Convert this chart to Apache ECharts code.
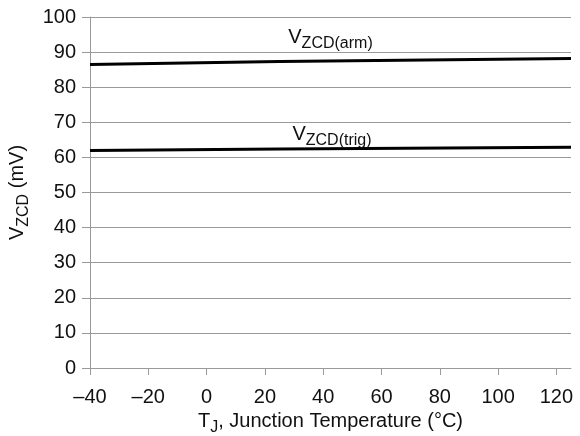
<!DOCTYPE html>
<html>
<head>
<meta charset="utf-8">
<script src="https://cdn.jsdelivr.net/npm/echarts@6/dist/echarts.min.js"></script>
<style>
  html, body { margin: 0; padding: 0; background: #fff; }
  #chart { width: 580px; height: 436px; }
</style>
</head>
<body>
<div id="chart"></div>
<script>
// Junction temperature (°C) sample points
const temperatures = [-40, 25, 125];
// Zero-cross detect thresholds (mV)
const vzcdArm = [86.5, 87.3, 88.2];
const vzcdTrig = [62.0, 62.4, 62.9];
// Where each curve's name sits, in data units [T, mV]
const armLabelAt = [42.5, 93.8];
const trigLabelAt = [43, 66.3];

const FONT = '"Liberation Sans", Arial, Helvetica, sans-serif';
const GRID = '#9a9a9a';

const richText = {
  m: { fontSize: 20, fontFamily: FONT, color: '#111', lineHeight: 22, verticalAlign: 'top' },
  s: { fontSize: 16, fontFamily: FONT, color: '#111', lineHeight: 16, padding: [8, 0, 0, 0], verticalAlign: 'top' }
};

function pairs(xs, ys) { return xs.map((x, i) => [x, ys[i]]); }

function curveLabel(at, sub) {
  return {
    symbol: 'circle',
    symbolSize: 0,
    data: [{
      coord: at,
      label: {
        show: true,
        position: 'inside',
        formatter: '{m|V}{s|' + sub + '}',
        rich: richText
      }
    }]
  };
}

const chart = echarts.init(document.getElementById('chart'), null, { renderer: 'canvas' });
chart.setOption({
  animation: false,
  backgroundColor: '#fff',
  grid: { left: 90, right: 9, top: 17, bottom: 68, containLabel: false, outerBoundsMode: 'none' },
  xAxis: {
    type: 'value',
    min: -40,
    max: 125,
    interval: 20,
    name: '{m|T}{s|J}{m|, Junction Temperature (°C)}',
    nameLocation: 'middle',
    nameGap: 43,
    nameTextStyle: { rich: richText },
    axisLine: { show: true, onZero: false, lineStyle: { color: GRID, width: 1 } },
    axisTick: { show: true, length: 7, lineStyle: { color: GRID } },
    splitLine: { show: false },
    axisLabel: {
      fontSize: 20,
      fontFamily: FONT,
      color: '#111',
      margin: 19,
      showMaxLabel: false,
      formatter: v => (v > 120 ? '' : String(v).replace('-', '\u2013'))
    }
  },
  yAxis: {
    type: 'value',
    min: 0,
    max: 100,
    interval: 10,
    name: '{m|V}{s|ZCD}{m| (mV)}',
    nameLocation: 'middle',
    nameRotate: 90,
    nameGap: 53,
    nameTextStyle: { rich: richText },
    axisLine: { show: true, onZero: false, lineStyle: { color: GRID, width: 1 } },
    axisTick: { show: true, length: 8, lineStyle: { color: GRID } },
    splitLine: { show: true, lineStyle: { color: GRID, width: 1 } },
    axisLabel: { fontSize: 20, fontFamily: FONT, color: '#111', margin: 14 }
  },
  series: [
    {
      name: 'VZCD(arm)',
      type: 'line',
      data: pairs(temperatures, vzcdArm),
      showSymbol: false,
      lineStyle: { color: '#000', width: 3 },
      markPoint: curveLabel(armLabelAt, 'ZCD(arm)')
    },
    {
      name: 'VZCD(trig)',
      type: 'line',
      data: pairs(temperatures, vzcdTrig),
      showSymbol: false,
      lineStyle: { color: '#000', width: 3 },
      markPoint: curveLabel(trigLabelAt, 'ZCD(trig)')
    }
  ]
});
</script>
</body>
</html>
